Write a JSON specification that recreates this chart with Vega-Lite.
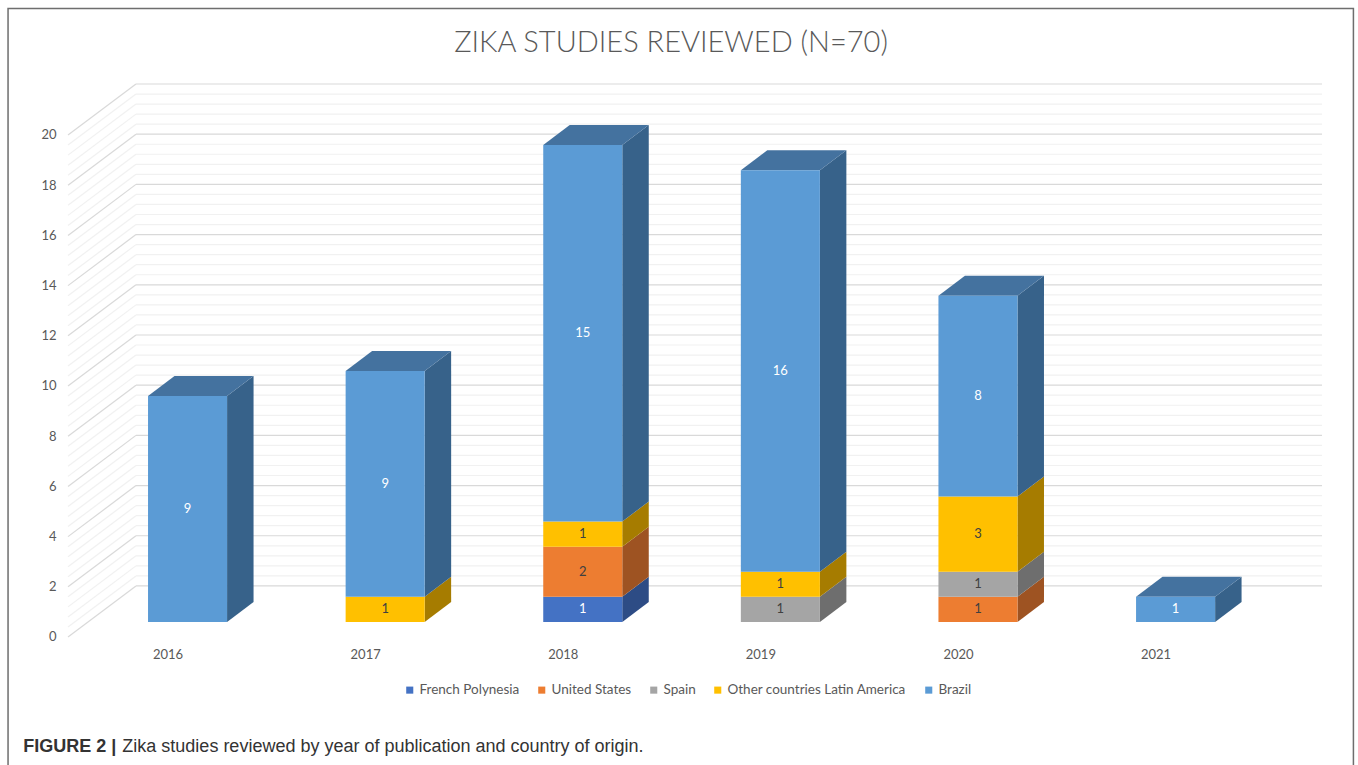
{
"$schema":"https://vega.github.io/schema/vega-lite/v6.json",
"autosize":{"type":"none"},
"padding":{"left":68,"top":84,"right":36,"bottom":128},
"width":1254,"height":553,
"background":"white",
"config":{"view":{"stroke":null}},
"title":{"text":"ZIKA STUDIES REVIEWED (N=70)","font":"Lato","fontSize":29,"fontWeight":300,"color":"#595959","anchor":"middle","frame":"group","dx":-24,"offset":-50},
"datasets":{
"bars":[
{"year":2016,"country":"Brazil","n":9,"x0":2015.8,"x1":2016.2,"start":0,"end":9,"mid":4.5},
{"year":2017,"country":"Other countries Latin America","n":1,"x0":2016.8,"x1":2017.2,"start":0,"end":1,"mid":0.5},
{"year":2017,"country":"Brazil","n":9,"x0":2016.8,"x1":2017.2,"start":1,"end":10,"mid":5.5},
{"year":2018,"country":"French Polynesia","n":1,"x0":2017.8,"x1":2018.2,"start":0,"end":1,"mid":0.5},
{"year":2018,"country":"United States","n":2,"x0":2017.8,"x1":2018.2,"start":1,"end":3,"mid":2},
{"year":2018,"country":"Other countries Latin America","n":1,"x0":2017.8,"x1":2018.2,"start":3,"end":4,"mid":3.5},
{"year":2018,"country":"Brazil","n":15,"x0":2017.8,"x1":2018.2,"start":4,"end":19,"mid":11.5},
{"year":2019,"country":"Spain","n":1,"x0":2018.8,"x1":2019.2,"start":0,"end":1,"mid":0.5},
{"year":2019,"country":"Other countries Latin America","n":1,"x0":2018.8,"x1":2019.2,"start":1,"end":2,"mid":1.5},
{"year":2019,"country":"Brazil","n":16,"x0":2018.8,"x1":2019.2,"start":2,"end":18,"mid":10},
{"year":2020,"country":"United States","n":1,"x0":2019.8,"x1":2020.2,"start":0,"end":1,"mid":0.5},
{"year":2020,"country":"Spain","n":1,"x0":2019.8,"x1":2020.2,"start":1,"end":2,"mid":1.5},
{"year":2020,"country":"Other countries Latin America","n":3,"x0":2019.8,"x1":2020.2,"start":2,"end":5,"mid":3.5},
{"year":2020,"country":"Brazil","n":8,"x0":2019.8,"x1":2020.2,"start":5,"end":13,"mid":9},
{"year":2021,"country":"Brazil","n":1,"x0":2020.8,"x1":2021.2,"start":0,"end":1,"mid":0.5}
],
"sides":[
{"year":2016,"country":"Brazil","x":2016.2,"lo":0,"hi":9},{"year":2016,"country":"Brazil","x":2016.334,"lo":0.797,"hi":9.797},
{"year":2017,"country":"Other countries Latin America","x":2017.2,"lo":0,"hi":1},{"year":2017,"country":"Other countries Latin America","x":2017.334,"lo":0.797,"hi":1.797},
{"year":2017,"country":"Brazil","x":2017.2,"lo":1,"hi":10},{"year":2017,"country":"Brazil","x":2017.334,"lo":1.797,"hi":10.797},
{"year":2018,"country":"French Polynesia","x":2018.2,"lo":0,"hi":1},{"year":2018,"country":"French Polynesia","x":2018.334,"lo":0.797,"hi":1.797},
{"year":2018,"country":"United States","x":2018.2,"lo":1,"hi":3},{"year":2018,"country":"United States","x":2018.334,"lo":1.797,"hi":3.797},
{"year":2018,"country":"Other countries Latin America","x":2018.2,"lo":3,"hi":4},{"year":2018,"country":"Other countries Latin America","x":2018.334,"lo":3.797,"hi":4.797},
{"year":2018,"country":"Brazil","x":2018.2,"lo":4,"hi":19},{"year":2018,"country":"Brazil","x":2018.334,"lo":4.797,"hi":19.797},
{"year":2019,"country":"Spain","x":2019.2,"lo":0,"hi":1},{"year":2019,"country":"Spain","x":2019.334,"lo":0.797,"hi":1.797},
{"year":2019,"country":"Other countries Latin America","x":2019.2,"lo":1,"hi":2},{"year":2019,"country":"Other countries Latin America","x":2019.334,"lo":1.797,"hi":2.797},
{"year":2019,"country":"Brazil","x":2019.2,"lo":2,"hi":18},{"year":2019,"country":"Brazil","x":2019.334,"lo":2.797,"hi":18.797},
{"year":2020,"country":"United States","x":2020.2,"lo":0,"hi":1},{"year":2020,"country":"United States","x":2020.334,"lo":0.797,"hi":1.797},
{"year":2020,"country":"Spain","x":2020.2,"lo":1,"hi":2},{"year":2020,"country":"Spain","x":2020.334,"lo":1.797,"hi":2.797},
{"year":2020,"country":"Other countries Latin America","x":2020.2,"lo":2,"hi":5},{"year":2020,"country":"Other countries Latin America","x":2020.334,"lo":2.797,"hi":5.797},
{"year":2020,"country":"Brazil","x":2020.2,"lo":5,"hi":13},{"year":2020,"country":"Brazil","x":2020.334,"lo":5.797,"hi":13.797},
{"year":2021,"country":"Brazil","x":2021.2,"lo":0,"hi":1},{"year":2021,"country":"Brazil","x":2021.334,"lo":0.797,"hi":1.797}
],
"tops":[
{"year":2016,"x":2015.8,"lo":9,"hi":9},{"year":2016,"x":2015.934,"lo":9,"hi":9.797},{"year":2016,"x":2016.2,"lo":9,"hi":9.797},{"year":2016,"x":2016.334,"lo":9.797,"hi":9.797},
{"year":2017,"x":2016.8,"lo":10,"hi":10},{"year":2017,"x":2016.934,"lo":10,"hi":10.797},{"year":2017,"x":2017.2,"lo":10,"hi":10.797},{"year":2017,"x":2017.334,"lo":10.797,"hi":10.797},
{"year":2018,"x":2017.8,"lo":19,"hi":19},{"year":2018,"x":2017.934,"lo":19,"hi":19.797},{"year":2018,"x":2018.2,"lo":19,"hi":19.797},{"year":2018,"x":2018.334,"lo":19.797,"hi":19.797},
{"year":2019,"x":2018.8,"lo":18,"hi":18},{"year":2019,"x":2018.934,"lo":18,"hi":18.797},{"year":2019,"x":2019.2,"lo":18,"hi":18.797},{"year":2019,"x":2019.334,"lo":18.797,"hi":18.797},
{"year":2020,"x":2019.8,"lo":13,"hi":13},{"year":2020,"x":2019.934,"lo":13,"hi":13.797},{"year":2020,"x":2020.2,"lo":13,"hi":13.797},{"year":2020,"x":2020.334,"lo":13.797,"hi":13.797},
{"year":2021,"x":2020.8,"lo":1,"hi":1},{"year":2021,"x":2020.934,"lo":1,"hi":1.797},{"year":2021,"x":2021.2,"lo":1,"hi":1.797},{"year":2021,"x":2021.334,"lo":1.797,"hi":1.797}
],
"major":[
{"back":1.434,"front":-0.6},{"back":3.434,"front":1.4},{"back":5.434,"front":3.4},{"back":7.434,"front":5.4},{"back":9.434,"front":7.4},{"back":11.434,"front":9.4},{"back":13.434,"front":11.4},{"back":15.434,"front":13.4},{"back":17.434,"front":15.4},{"back":19.434,"front":17.4},{"back":21.434,"front":19.4}
],
"minor":[
{"back":1.834,"front":-0.2},{"back":2.234,"front":0.2},{"back":2.634,"front":0.6},{"back":3.034,"front":1.0},
{"back":3.834,"front":1.8},{"back":4.234,"front":2.2},{"back":4.634,"front":2.6},{"back":5.034,"front":3.0},
{"back":5.834,"front":3.8},{"back":6.234,"front":4.2},{"back":6.634,"front":4.6},{"back":7.034,"front":5.0},
{"back":7.834,"front":5.8},{"back":8.234,"front":6.2},{"back":8.634,"front":6.6},{"back":9.034,"front":7.0},
{"back":9.834,"front":7.8},{"back":10.234,"front":8.2},{"back":10.634,"front":8.6},{"back":11.034,"front":9.0},
{"back":11.834,"front":9.8},{"back":12.234,"front":10.2},{"back":12.634,"front":10.6},{"back":13.034,"front":11.0},
{"back":13.834,"front":11.8},{"back":14.234,"front":12.2},{"back":14.634,"front":12.6},{"back":15.034,"front":13.0},
{"back":15.834,"front":13.8},{"back":16.234,"front":14.2},{"back":16.634,"front":14.6},{"back":17.034,"front":15.0},
{"back":17.834,"front":15.8},{"back":18.234,"front":16.2},{"back":18.634,"front":16.6},{"back":19.034,"front":17.0},
{"back":19.834,"front":17.8},{"back":20.234,"front":18.2},{"back":20.634,"front":18.6},{"back":21.034,"front":19.0}
],
"caption":[
{"label":"FIGURE 2 |","x":2015.168,"y":-4.98,"kind":"bold"},
{"label":"Zika studies reviewed by year of publication and country of origin.","x":2015.67,"y":-4.98,"kind":"plain"}
]
},
"data":{"name":"bars"},
"encoding":{
"x":{"type":"quantitative","scale":{"domain":[2015.395,2021.741],"nice":false,"zero":false}},
"y":{"type":"quantitative","scale":{"domain":[-0.6,21.434],"nice":false,"zero":false}}
},
"layer":[
{"data":{"values":[{"a":2015.0916,"b":2021.9,"c":24.44,"d":-6.5}]},
 "mark":{"type":"rect","fill":"transparent","stroke":"#6e6e6e","strokeWidth":1.5,"clip":false},
 "encoding":{"x":{"field":"a","type":"quantitative","axis":{"title":null,"values":[2016,2017,2018,2019,2020,2021],"format":"d","grid":false,"domain":false,"ticks":false,"labelFont":"Lato","labelFontSize":13,"labelColor":"#595959","labelOffset":-20,"labelPadding":11,"labelBound":false,"labelFlush":false,"labelOverlap":false}},
 "x2":{"field":"b"},
 "y":{"field":"c","type":"quantitative","axis":{"title":null,"values":[0,2,4,6,8,10,12,14,16,18,20],"grid":false,"domain":false,"ticks":false,"labelFont":"Lato","labelFontSize":13,"labelColor":"#595959","labelOffset":15,"labelPadding":12,"labelBound":false,"labelFlush":false,"labelOverlap":false}},
 "y2":{"field":"d"}}},
{"data":{"name":"minor"},"mark":{"type":"rule","stroke":"#f1f1f1","strokeWidth":1.2},
 "encoding":{"x":{"datum":2015.395},"x2":{"datum":2015.739},"y":{"field":"front","type":"quantitative"},"y2":{"field":"back"}}},
{"data":{"name":"minor"},"mark":{"type":"rule","stroke":"#f1f1f1","strokeWidth":1.2},
 "encoding":{"x":{"datum":2015.739},"x2":{"datum":2021.741},"y":{"field":"back","type":"quantitative"}}},
{"data":{"name":"major"},"mark":{"type":"rule","stroke":"#d9d9d9","strokeWidth":1.2},
 "encoding":{"x":{"datum":2015.395},"x2":{"datum":2015.739},"y":{"field":"front","type":"quantitative"},"y2":{"field":"back"}}},
{"data":{"name":"major"},"mark":{"type":"rule","stroke":"#d9d9d9","strokeWidth":1.2},
 "encoding":{"x":{"datum":2015.739},"x2":{"datum":2021.741},"y":{"field":"back","type":"quantitative"}}},
{"data":{"name":"sides"},"mark":{"type":"area","interpolate":"linear"},
 "encoding":{"x":{"field":"x","type":"quantitative"},"y":{"field":"lo","type":"quantitative"},"y2":{"field":"hi"},"detail":{"field":"year"},
 "color":{"field":"country","type":"nominal","legend":null,"scale":{"domain":["French Polynesia","United States","Spain","Other countries Latin America","Brazil"],"range":["#2d4c85","#9e5322","#6e6e6e","#a67c00","#37628a"]}}}},
{"data":{"name":"tops"},"mark":{"type":"area","interpolate":"linear","color":"#44729f"},
 "encoding":{"x":{"field":"x","type":"quantitative"},"y":{"field":"lo","type":"quantitative"},"y2":{"field":"hi"},"detail":{"field":"year"}}},
{"mark":{"type":"rect"},
 "encoding":{"x":{"field":"x0","type":"quantitative"},"x2":{"field":"x1"},
 "y":{"field":"start","type":"quantitative"},"y2":{"field":"end"},
 "color":{"field":"country","type":"nominal","title":null,
  "scale":{"domain":["French Polynesia","United States","Spain","Other countries Latin America","Brazil"],"range":["#4472c4","#ed7d31","#a5a5a5","#ffc000","#5b9bd5"]},
  "legend":{"orient":"none","legendX":335,"legendY":599,"direction":"horizontal","symbolType":"square","symbolSize":50,"labelFont":"Lato","labelFontSize":13.5,"labelColor":"#595959","columnPadding":15,"labelOffset":3,"symbolStrokeWidth":0,"labelLimit":300}}}},
{"mark":{"type":"text","font":"Lato","fontSize":13},
 "encoding":{"x":{"field":"year","type":"quantitative"},"y":{"field":"mid","type":"quantitative"},"text":{"field":"n","type":"quantitative"},
 "color":{"condition":{"test":"datum.country==='Brazil'||datum.country==='French Polynesia'","value":"#ffffff"},"value":"#404040"}}},
{"data":{"name":"caption"},"transform":[{"filter":"datum.kind==='bold'"}],"mark":{"type":"text","font":"Liberation Sans","fontSize":18,"fontWeight":"bold","align":"left","color":"#333333","clip":false},
 "encoding":{"x":{"field":"x","type":"quantitative"},"y":{"field":"y","type":"quantitative"},"text":{"field":"label"}}},
{"data":{"name":"caption"},"transform":[{"filter":"datum.kind==='plain'"}],"mark":{"type":"text","font":"Liberation Sans","fontSize":18,"align":"left","color":"#333333","clip":false},
 "encoding":{"x":{"field":"x","type":"quantitative"},"y":{"field":"y","type":"quantitative"},"text":{"field":"label"}}}
],
"resolve":{"scale":{"color":"independent"}}
}
